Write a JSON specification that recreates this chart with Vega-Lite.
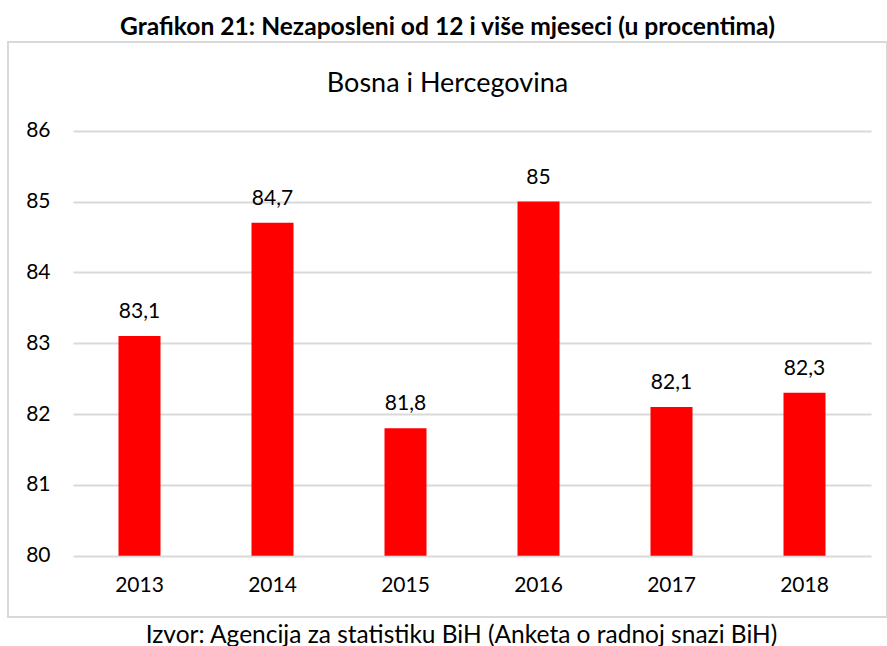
{
  "$schema": "https://vega.github.io/schema/vega-lite/v6.json",
  "autosize": {"type": "none"},
  "padding": {"left": 8, "top": 42, "right": 0, "bottom": 29},
  "width": 879,
  "height": 575,
  "background": "white",
  "title": {
    "text": "Grafikon 21: Nezaposleni od 12 i više mjeseci (u procentima)",
    "subtitle": "Bosna i Hercegovina",
    "anchor": "middle",
    "font": "Lato",
    "fontSize": 24.6,
    "fontWeight": "bold",
    "color": "#000000",
    "subtitleFont": "Lato",
    "subtitleFontSize": 27,
    "subtitleColor": "#000000",
    "subtitlePadding": 30,
    "offset": -56
  },
  "config": {
    "view": {"stroke": "#d9d9d9", "strokeWidth": 2},
    "locale": {
      "number": {"decimal": ",", "thousands": ".", "grouping": [3], "currency": ["", " KM"]}
    }
  },
  "data": {
    "values": [
      {"godina": "2013", "value": 83.1},
      {"godina": "2014", "value": 84.7},
      {"godina": "2015", "value": 81.8},
      {"godina": "2016", "value": 85},
      {"godina": "2017", "value": 82.1},
      {"godina": "2018", "value": 82.3}
    ]
  },
  "encoding": {
    "x": {
      "field": "godina",
      "type": "ordinal",
      "scale": {"range": [65, 863], "paddingInner": 0, "paddingOuter": 0},
      "axis": {
        "title": "Izvor: Agencija za statistiku BiH (Anketa o radnoj snazi BiH)",
        "labelAngle": 0,
        "domain": false,
        "ticks": false,
        "grid": false,
        "offset": -61,
        "labelPadding": 18,
        "labelFont": "Lato",
        "labelFontSize": 21,
        "labelColor": "#000000",
        "titleFont": "Lato",
        "titleFontSize": 24.5,
        "titleFontWeight": "normal",
        "titleColor": "#000000",
        "titlePadding": 28,
        "titleX": 453
      }
    }
  },
  "layer": [
    {
      "mark": {"type": "bar", "color": "#ff0000", "size": 42},
      "encoding": {
        "y": {
          "field": "value",
          "type": "quantitative",
          "scale": {"domain": [80, 86], "range": [513.7, 88.7], "nice": false, "zero": false},
          "axis": {
            "values": [80, 81, 82, 83, 84, 85, 86],
            "format": "d",
            "grid": true,
            "gridColor": "#d9d9d9",
            "gridWidth": 1.8,
            "domain": false,
            "ticks": false,
            "offset": -44,
            "labelPadding": 2,
            "labelFont": "Lato",
            "labelFontSize": 21,
            "labelColor": "#000000",
            "title": null
          }
        },
        "y2": {"datum": 80}
      }
    },
    {
      "mark": {"type": "text", "dy": -18, "baseline": "alphabetic", "font": "Lato", "fontSize": 21, "color": "#000000"},
      "encoding": {
        "y": {"field": "value", "type": "quantitative"},
        "text": {"field": "value", "type": "quantitative", "format": "~g"}
      }
    }
  ]
}
